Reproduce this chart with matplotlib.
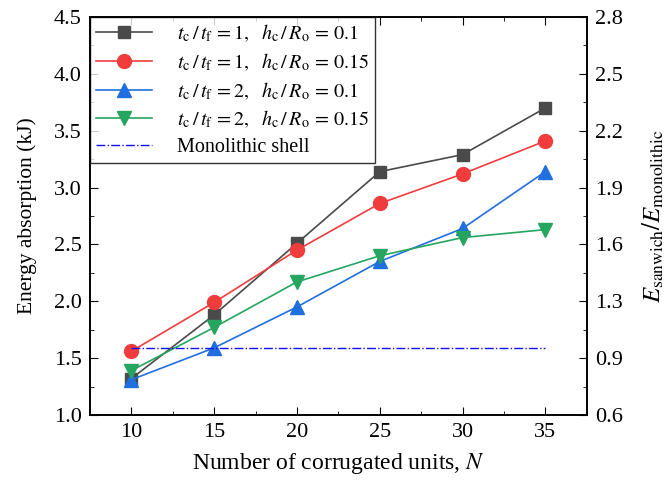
import matplotlib.pyplot as plt
from matplotlib.ticker import MultipleLocator

plt.rcParams['font.family'] = 'Liberation Serif'
plt.rcParams['mathtext.fontset'] = 'stix'

# Data
units = [10, 15, 20, 25, 30, 35]
e_t1_h010 = [1.32, 1.88, 2.51, 3.14, 3.29, 3.70]
e_t1_h015 = [1.56, 1.99, 2.45, 2.86, 3.12, 3.41]
e_t2_h010 = [1.31, 1.59, 1.95, 2.35, 2.64, 3.14]
e_t2_h015 = [1.39, 1.77, 2.17, 2.40, 2.56, 2.63]
monolithic = 1.59

left_ticks = [1.0, 1.5, 2.0, 2.5, 3.0, 3.5, 4.0, 4.5]
right_labels = ['0.6', '0.9', '1.3', '1.6', '1.9', '2.2', '2.5', '2.8']

fig = plt.figure(figsize=(6.69, 4.87), dpi=100)
ax = fig.add_axes([0.1345, 0.148, 0.7425, 0.817])

ax.plot(units, e_t1_h010, color='#4a4a4a', marker='s', ms=9, lw=1.2,
        label=r'$t_{\rm c}\,/\,t_{\rm f}\,=1,\ \ h_{\rm c}\,/\,R_{\rm o}\,=\,0.1$')
ax.plot(units, e_t1_h015, color='#f03c3c', marker='o', ms=10, lw=1.2,
        label=r'$t_{\rm c}\,/\,t_{\rm f}\,=1,\ \ h_{\rm c}\,/\,R_{\rm o}\,=\,0.15$')
ax.plot(units, e_t2_h010, color='#1f6fe0', marker='^', ms=10, lw=1.2,
        label=r'$t_{\rm c}\,/\,t_{\rm f}\,=2,\ \ h_{\rm c}\,/\,R_{\rm o}\,=\,0.1$')
ax.plot(units, e_t2_h015, color='#25a55f', marker='v', ms=10, lw=1.2,
        label=r'$t_{\rm c}\,/\,t_{\rm f}\,=2,\ \ h_{\rm c}\,/\,R_{\rm o}\,=\,0.15$')
ax.plot([units[0], units[-1]], [monolithic, monolithic], color='#1010f0',
        ls='-.', lw=1.0, label='Monolithic shell')

ax.set_xlim(7.5, 37.5)
ax.set_ylim(1.0, 4.5)
ax.set_xticks(units)
ax.set_yticks(left_ticks)
ax.xaxis.set_minor_locator(MultipleLocator(2.5))
ax.yaxis.set_minor_locator(MultipleLocator(0.25))
ax.tick_params(which='both', direction='in', top=True, labelsize=16)
ax.tick_params(which='major', length=6, pad=6)
ax.tick_params(which='minor', length=3)
ax.set_xlabel(r'Number of corrugated units, $N$', fontsize=17, labelpad=6)
ax.set_ylabel('Energy absorption (kJ)', fontsize=15.5, labelpad=12)

ax2 = ax.twinx()
ax2.set_ylim(1.0, 4.5)
ax2.set_yticks(left_ticks)
ax2.set_yticklabels(right_labels)
ax2.yaxis.set_minor_locator(MultipleLocator(0.25))
ax2.tick_params(which='both', direction='in', labelsize=16)
ax2.tick_params(which='major', length=6, pad=6)
ax2.tick_params(which='minor', length=3)
ax2.set_ylabel(r'$E_{\rm sanwich}/E_{\rm monolithic}$', fontsize=18, labelpad=13)

for a in (ax, ax2):
    for s in a.spines.values():
        s.set_linewidth(1.2)

leg = ax.legend(loc='upper left', fontsize=14.5, handlelength=2.8, frameon=True,
                fancybox=False, edgecolor='black', borderaxespad=0,
                labelspacing=0.36, borderpad=0.3, handletextpad=1.2)
leg.get_frame().set_linewidth(1.0)

fig.savefig('out.png', dpi=100)
